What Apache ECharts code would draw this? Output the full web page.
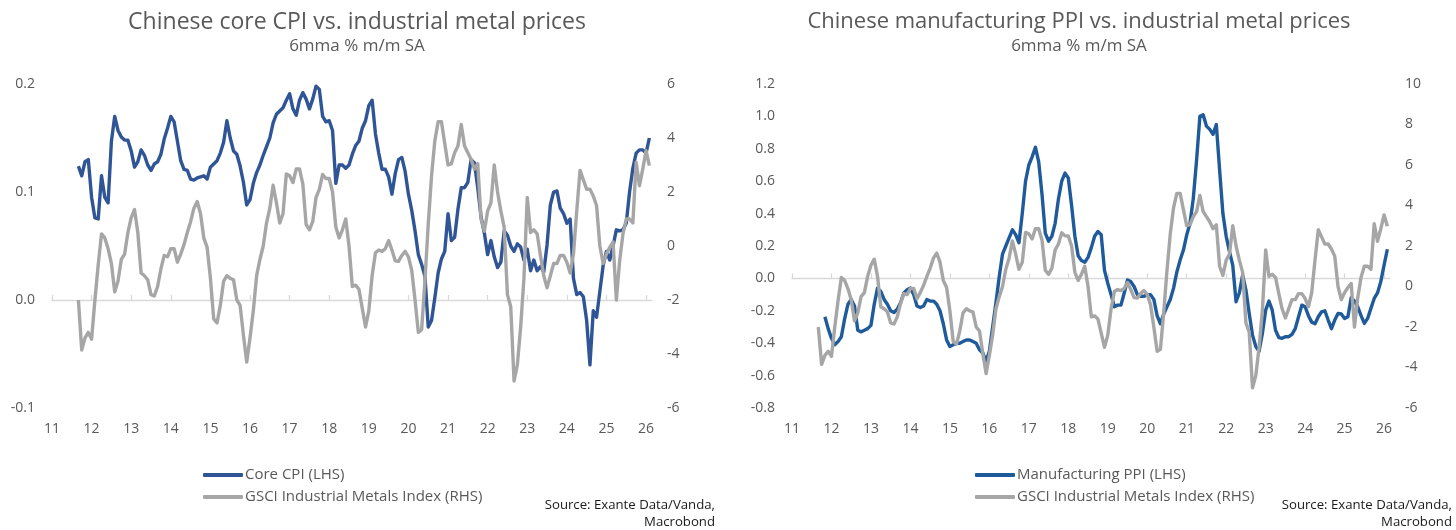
<!DOCTYPE html>
<html>
<head>
<meta charset="utf-8">
<title>Chinese CPI / PPI vs. industrial metal prices</title>
<script src="https://cdn.jsdelivr.net/npm/echarts@6/dist/echarts.min.js"></script>
<style>
    html, body { margin: 0; padding: 0; background: #fff; }
    #chart { width: 1456px; height: 530px; }
</style>
</head>
<body>
<div id="chart"></div>
<script>
// monthly data, 6mma % m/m SA, first month Sep 2011, last Feb 2026
var firstYear = 2011;
var firstMonth = 9;
var yearTicks = [2011, 2012, 2013, 2014, 2015, 2016, 2017, 2018, 2019, 2020, 2021, 2022, 2023, 2024, 2025, 2026];

var coreCpi = [
    0.124, 0.115, 0.128, 0.130, 0.095, 0.076, 0.075, 0.115, 0.095, 0.090, 0.147, 0.170,
    0.157, 0.151, 0.148, 0.148, 0.138, 0.123, 0.128, 0.139, 0.134, 0.125, 0.120, 0.126,
    0.128, 0.135, 0.149, 0.159, 0.170, 0.165, 0.147, 0.129, 0.121, 0.120, 0.112, 0.111,
    0.113, 0.114, 0.115, 0.112, 0.123, 0.126, 0.129, 0.136, 0.146, 0.166, 0.150, 0.138,
    0.135, 0.124, 0.109, 0.088, 0.093, 0.108, 0.118, 0.125, 0.134, 0.142, 0.150, 0.164,
    0.172, 0.175, 0.178, 0.185, 0.191, 0.177, 0.171, 0.185, 0.192, 0.186, 0.177, 0.186,
    0.198, 0.195, 0.170, 0.165, 0.166, 0.157, 0.108, 0.125, 0.125, 0.122, 0.125, 0.135,
    0.143, 0.147, 0.159, 0.166, 0.180, 0.185, 0.154, 0.136, 0.121, 0.121, 0.114, 0.098,
    0.117, 0.130, 0.132, 0.119, 0.098, 0.083, 0.064, 0.042, 0.033, 0.022, -0.025, -0.019,
    0.002, 0.025, 0.038, 0.045, 0.080, 0.055, 0.058, 0.084, 0.104, 0.104, 0.109, 0.130,
    0.127, 0.104, 0.077, 0.062, 0.042, 0.055, 0.040, 0.030, 0.035, 0.064, 0.060, 0.050,
    0.045, 0.052, 0.049, 0.037, 0.047, 0.027, 0.037, 0.027, 0.031, 0.026, 0.051, 0.088,
    0.100, 0.101, 0.085, 0.080, 0.071, 0.075, 0.020, 0.005, 0.007, 0.003, -0.019, -0.060,
    -0.010, -0.016, 0.008, 0.032, 0.045, 0.037, 0.050, 0.065, 0.064, 0.065, 0.071, 0.100,
    0.122, 0.136, 0.139, 0.139, 0.136, 0.150
];

var mfgPpi = [
    null, null, -0.237, -0.31, -0.37, -0.41, -0.39, -0.36, -0.25, -0.16, -0.13, -0.17,
    -0.32, -0.33, -0.32, -0.31, -0.29, -0.16, -0.06, -0.08, -0.13, -0.16, -0.20, -0.21,
    -0.19, -0.15, -0.09, -0.07, -0.06, -0.10, -0.17, -0.18, -0.17, -0.13, -0.14, -0.14,
    -0.16, -0.20, -0.28, -0.38, -0.42, -0.41, -0.40, -0.40, -0.39, -0.38, -0.38, -0.39,
    -0.40, -0.44, -0.46, -0.51, -0.45, -0.30, -0.15, 0.01, 0.15, 0.20, 0.25, 0.30,
    0.27, 0.22, 0.40, 0.60, 0.70, 0.75, 0.81, 0.72, 0.52, 0.28, 0.23, 0.26,
    0.34, 0.49, 0.60, 0.65, 0.62, 0.45, 0.26, 0.14, 0.11, 0.10, 0.13, 0.19,
    0.26, 0.29, 0.27, 0.05, -0.03, -0.10, -0.175, -0.165, -0.165, -0.09, -0.01, -0.02,
    -0.05, -0.10, -0.11, -0.11, -0.10, -0.10, -0.13, -0.23, -0.28, -0.22, -0.175, -0.13,
    -0.06, 0.04, 0.113, 0.175, 0.268, 0.34, 0.494, 0.73, 1.0, 1.01, 0.94, 0.92,
    0.89, 0.95, 0.67, 0.40, 0.26, 0.165, 0.08, -0.144, -0.09, 0.02, -0.072, -0.216,
    -0.35, -0.42, -0.45, -0.34, -0.196, -0.14, -0.196, -0.32, -0.365, -0.37, -0.36, -0.36,
    -0.345, -0.31, -0.237, -0.165, -0.175, -0.23, -0.27, -0.28, -0.237, -0.206, -0.20, -0.257,
    -0.31, -0.257, -0.216, -0.22, -0.247, -0.237, -0.12, -0.14, -0.175, -0.23, -0.278, -0.247,
    -0.185, -0.124, -0.09, -0.02, 0.082, 0.18
];

var gsciMetals = [
    -2.0, -3.85, -3.4, -3.2, -3.45, -2.0, -0.7, 0.45, 0.3, -0.1, -0.65, -1.7,
    -1.3, -0.5, -0.3, 0.5, 1.05, 1.35, 0.5, -1.0, -1.1, -1.25, -1.8, -1.85,
    -1.5, -0.85, -0.35, -0.4, -0.1, -0.1, -0.6, -0.3, 0.05, 0.5, 0.9, 1.4,
    1.65, 1.2, 0.3, -0.05, -1.2, -2.7, -2.85, -2.2, -1.3, -1.1, -1.2, -1.25,
    -2.0, -2.2, -3.3, -4.3, -3.4, -2.4, -1.1, -0.5, 0.0, 0.85, 1.4, 2.25,
    1.6, 0.85, 1.2, 2.67, 2.6, 2.35, 2.85, 2.85, 2.3, 0.8, 0.6, 0.9,
    1.8, 2.1, 2.65, 2.5, 2.5, 2.0, 0.7, 0.3, 0.6, 1.0, 0.0, -1.5,
    -1.45, -1.6, -2.3, -3.0, -2.4, -1.1, -0.25, -0.15, -0.2, -0.1, 0.2, -0.15,
    -0.55, -0.57, -0.35, -0.2, -0.4, -0.9, -2.0, -3.2, -3.1, -1.3, 0.8, 2.6,
    3.9, 4.6, 4.6, 3.8, 3.0, 3.05, 3.45, 3.7, 4.5, 3.7, 3.45, 3.2,
    2.85, 3.05, 1.0, 0.55, 1.3, 1.6, 3.0, 2.0, 1.3, 0.7, -1.8, -2.25,
    -5.0, -4.4, -3.0, -1.2, 1.8, 0.5, 0.6, 0.45, -0.35, -1.1, -1.55, -1.1,
    -0.65, -0.65, -0.35, -0.35, -0.6, -1.0, -0.3, 1.3, 2.8, 2.45, 2.1, 2.1,
    1.85, 1.5, 0.0, -0.65, -0.3, -0.05, 0.15, -2.0, -0.55, 0.45, 1.0, 1.0,
    0.85, 3.1, 2.23, 2.85, 3.53, 2.98
];

var xMin = 2011, xMax = 2026.15;
var font = "'Open Sans', sans-serif";
var labelGrey = '#595959';
var cpiBlue = '#2f5597';
var ppiBlue = '#1f5b9b';
var metalGrey = '#a6a6a6';

function toPoints(values) {
    return values.map(function (v, i) {
        return [firstYear + (firstMonth - 1 + i) / 12, v];
    });
}

// one axis for the year labels at the bottom, one for the zero line with ticks
function xAxes(gridIndex, zeroAxisIndex) {
    return [{
        gridIndex: gridIndex,
        type: 'value',
        min: xMin,
        max: xMax,
        interval: 1,
        position: 'bottom',
        axisLine: {show: false, onZero: false},
        axisTick: {show: false},
        splitLine: {show: false},
        axisLabel: {
            customValues: yearTicks,
            formatter: function (v) { return String(Math.round(v)).slice(2); },
            color: labelGrey,
            fontSize: 14,
            fontFamily: font,
            margin: 14
        }
    }, {
        gridIndex: gridIndex,
        type: 'value',
        min: xMin,
        max: xMax,
        interval: 1,
        axisLine: {onZero: true, onZeroAxisIndex: zeroAxisIndex, lineStyle: {color: '#d9d9d9', width: 1.3}},
        axisTick: {customValues: yearTicks, length: 5, lineStyle: {color: '#d9d9d9', width: 1.3}},
        axisLabel: {show: false},
        splitLine: {show: false}
    }];
}

function yAxis(gridIndex, position, min, max, interval, digits, margin) {
    return {
        gridIndex: gridIndex,
        type: 'value',
        position: position,
        min: min,
        max: max,
        interval: interval,
        axisLine: {show: false},
        axisTick: {show: false},
        splitLine: {show: false},
        axisLabel: {
            formatter: function (v) { return v.toFixed(digits); },
            color: labelGrey,
            fontSize: 14,
            fontFamily: font,
            margin: margin
        }
    };
}

function lineSeries(name, xIndex, yIndex, values, color) {
    return {
        name: name,
        type: 'line',
        xAxisIndex: xIndex,
        yAxisIndex: yIndex,
        data: toPoints(values),
        symbol: 'none',
        showSymbol: false,
        color: color,
        lineStyle: {width: 3.4, color: color, join: 'round'},
        emphasis: {disabled: true}
    };
}

function text(x, y, str, size, align, color) {
    return {
        type: 'text',
        x: x,
        y: y,
        style: {
            text: str,
            font: size + 'px ' + font,
            fill: color || labelGrey,
            align: align || 'center',
            verticalAlign: 'middle',
            textAlign: align || 'center',
            textVerticalAlign: 'middle'
        }
    };
}

var legendStyle = {
    orient: 'vertical',
    top: 466,
    padding: 0,
    icon: 'roundRect',
    itemWidth: 40,
    itemHeight: 4,
    itemGap: 4,
    selectedMode: false,
    textStyle: {color: labelGrey, fontSize: 15, fontFamily: font, lineHeight: 18, padding: [0, 0, 0, -3]}
};

var metalsName = 'GSCI Industrial Metals Index (RHS)';

var chart = echarts.init(document.getElementById('chart'));
var option = {
    animation: false,
    backgroundColor: '#ffffff',
    grid: [
        {left: 52, top: 84, width: 600, height: 324, outerBoundsMode: 'none'},
        {left: 792, top: 84, width: 598, height: 324, outerBoundsMode: 'none'}
    ],
    xAxis: xAxes(0, 0).concat(xAxes(1, 2)),
    yAxis: [
        yAxis(0, 'left', -0.1, 0.2, 0.1, 1, 17),
        yAxis(0, 'right', -6, 6, 2, 0, 15),
        yAxis(1, 'left', -0.8, 1.2, 0.2, 1, 17),
        yAxis(1, 'right', -6, 10, 2, 0, 15)
    ],
    legend: [
        Object.assign({left: 203, data: ['Core CPI (LHS)', metalsName]}, legendStyle),
        Object.assign({left: 975, data: ['Manufacturing PPI (LHS)', metalsName]}, legendStyle)
    ],
    graphic: [
        text(357, 22, 'Chinese core CPI vs. industrial metal prices', 23),
        text(357, 46, '6mma % m/m SA', 17),
        text(1079, 22, 'Chinese manufacturing PPI vs. industrial metal prices', 22),
        text(1079, 46, '6mma % m/m SA', 17),
        text(715, 505, 'Source: Exante Data/Vanda,', 13.2, 'right', '#1a1a1a'),
        text(715, 522, 'Macrobond', 13.2, 'right', '#1a1a1a'),
        text(1452, 505, 'Source: Exante Data/Vanda,', 13.2, 'right', '#1a1a1a'),
        text(1452, 522, 'Macrobond', 13.2, 'right', '#1a1a1a')
    ],
    series: [
        lineSeries('Core CPI (LHS)', 0, 0, coreCpi, cpiBlue),
        lineSeries(metalsName, 0, 1, gsciMetals, metalGrey),
        lineSeries('Manufacturing PPI (LHS)', 2, 2, mfgPpi, ppiBlue),
        lineSeries(metalsName, 2, 3, gsciMetals, metalGrey)
    ]
};
chart.setOption(option);
</script>
</body>
</html>
